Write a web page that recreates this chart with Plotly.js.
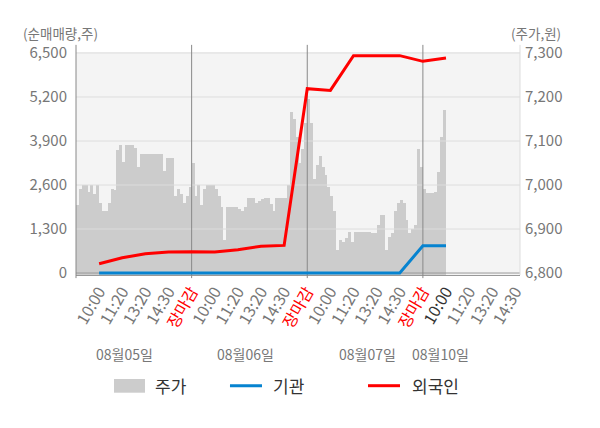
<!DOCTYPE html>
<html>
<head>
<meta charset="utf-8">
<script src="https://cdn.plot.ly/plotly-3.0.1.min.js"></script>
<style>
  html, body { margin: 0; padding: 0; background: #fff; }
  #chart { width: 600px; height: 428px; }
</style>
</head>
<body>
<div id="chart"></div>
<script>
// x axis labels
var session_labels = ['10:00', '11:20', '13:20', '14:30', '장마감']
var day_labels = ['08월05일', '08월06일', '08월07일', '08월10일']

// 주가 (원), sampled evenly through each session
var day1_price = [6955, 6992, 7000, 7000, 6985, 7000, 6980, 7000, 6960, 6942,
                  6942, 6960, 6990, 6988, 7080, 7092, 7052, 7092, 7092, 7092,
                  7085, 7040, 7071, 7071, 7071, 7071, 7071, 7071, 7071, 7071,
                  7032, 7062, 7062, 7062, 6976, 6992, 6980, 6960, 6975, 6995]
var day2_price = [7050, 6976, 7000, 6955, 6992, 7000, 7000, 7000, 6992, 6975,
                  6950, 6875, 6950, 6950, 6950, 6950, 6945, 6942, 6950, 6971,
                  6971, 6971, 6960, 6963, 6968, 6971, 6971, 6958, 6940, 6971,
                  6971, 6971, 6971, 7000, 7165, 7150, 7110, 7050, 7083, 7140]
var day3_price = [7196, 7140, 7014, 7045, 7067, 7040, 7022, 6995, 6975, 6940,
                  6852, 6875, 6870, 6880, 6893, 6870, 6893, 6893, 6893, 6893,
                  6893, 6893, 6892, 6892, 6910, 6933, 6933, 6852, 6882, 6892,
                  6940, 6960, 6965, 6960, 6920, 6892, 6900, 6910, 7083, 7040]
var day4_price = [6992, 6983, 6983, 6983, 6985, 7030, 7110, 7171]

// 순매매량 (주), one value per tick
var foreign_net = [275, 450, 570, 620, 630, 620, 690, 790, 816, 5446, 5395, 6420, 6422, 6422, 6254, 6354]
var inst_net = [0, 0, 0, 0, 0, 0, 0, 0, 0, 0, 0, 0, 0, 0, 805, 805]

var flow_ticks = [0, 1300, 2600, 3900, 5200, 6500]
var price_ticks = [6800, 6900, 7000, 7100, 7200, 7300]

var font_family = 'Noto Sans CJK KR, Noto Sans, sans-serif'
var ticks_per_day = session_labels.length
var samples_per_day = 40
var x_range = [0, 19.2]
var price_range = [6795.5, 7302.3]
var flow_range = [-59, 6530]

// price bars
var price_x = []
var price_y = []
;[day1_price, day2_price, day3_price, day4_price].forEach((day, d) => {
  day.forEach((v, i) => {
    price_x.push(d * ticks_per_day + (i + 0.5) * ticks_per_day / samples_per_day)
    price_y.push(v)
  })
})

// tick labels, 장마감 in red, latest session darker
var tick_vals = []
var tick_text = []
day_labels.forEach((day, d) => {
  session_labels.forEach((lab, i) => {
    tick_vals.push(d * ticks_per_day + i + 1)
    if (lab == '장마감') tick_text.push('<span style="color:#ff0000">' + lab + '</span>')
    else if (d == day_labels.length - 1 && i == 0) tick_text.push('<span style="color:#333333">' + lab + '</span>')
    else tick_text.push(lab)
  })
})

var line_x = foreign_net.map((v, i) => i + 1)

// grid lines drawn as traces so they sit over the price bars but under the flow lines
var grid_x = [], grid_y = []
price_ticks.slice(1).forEach(t => { grid_x.push(x_range[0], x_range[1], null); grid_y.push(t, t, null) })
var day_x = [], day_y = []
for (let d = 1; d < day_labels.length; d++) {
  day_x.push(d * ticks_per_day, d * ticks_per_day, null)
  day_y.push(price_range[0], price_range[1], null)
}

var data = [
  {
    name: '주가', type: 'bar', x: price_x, y: price_y, yaxis: 'y',
    width: ticks_per_day / samples_per_day,
    marker: {color: '#cccccc', line: {width: 0}}, showlegend: false
  },
  {
    type: 'scatter', mode: 'lines', x: grid_x, y: grid_y, yaxis: 'y',
    line: {color: '#dddddd', width: 1}, showlegend: false, hoverinfo: 'skip'
  },
  {
    type: 'scatter', mode: 'lines', x: [x_range[0], x_range[1]], y: [price_ticks[0], price_ticks[0]], yaxis: 'y',
    line: {color: '#999999', width: 1}, showlegend: false, hoverinfo: 'skip'
  },
  {
    type: 'scatter', mode: 'lines', x: day_x, y: day_y, yaxis: 'y',
    line: {color: '#888888', width: 1}, showlegend: false, hoverinfo: 'skip'
  },
  {
    name: '기관', type: 'scatter', mode: 'lines', x: line_x, y: inst_net, yaxis: 'y2',
    line: {color: '#0683d0', width: 3}, showlegend: false
  },
  {
    name: '외국인', type: 'scatter', mode: 'lines', x: line_x, y: foreign_net, yaxis: 'y2',
    line: {color: '#ff0000', width: 3}, showlegend: false
  }
]

var tick_font = {family: font_family, size: 15, color: '#777777'}
var xtick_font = {family: font_family, size: 16, color: '#777777'}
var date_font = {family: font_family, size: 14, color: '#777777'}

// short line stubs outside the plot area (day lines, left/right axis)
var shapes = []
for (let d = 1; d < day_labels.length; d++) {
  shapes.push({type: 'line', xref: 'x', yref: 'paper', x0: d * ticks_per_day, x1: d * ticks_per_day, y0: 1, y1: 1.032, line: {color: '#888888', width: 1}})
  shapes.push({type: 'line', xref: 'x', yref: 'paper', x0: d * ticks_per_day, x1: d * ticks_per_day, y0: -0.014, y1: 0, line: {color: '#888888', width: 1}})
}
shapes.push({type: 'line', xref: 'paper', yref: 'paper', x0: 0, x1: 0, y0: -0.014, y1: 1.032, line: {color: '#888888', width: 1}})
shapes.push({type: 'line', xref: 'paper', yref: 'paper', x0: 1, x1: 1, y0: 0, y1: 1.032, line: {color: '#dddddd', width: 1}})

// legend
shapes.push({type: 'rect', xref: 'paper', yref: 'paper', x0: 0.0856, x1: 0.1554, y0: -0.5278, y1: -0.4664, fillcolor: '#cccccc', line: {width: 0}})
shapes.push({type: 'line', xref: 'paper', yref: 'paper', x0: 0.3468, x1: 0.4189, y0: -0.4964, y1: -0.4964, line: {color: '#0683d0', width: 3}})
shapes.push({type: 'line', xref: 'paper', yref: 'paper', x0: 0.6577, x1: 0.7297, y0: -0.4964, y1: -0.4964, line: {color: '#ff0000', width: 3}})

var legend_font = {family: font_family, size: 17, color: '#333333'}
var title_font = {family: font_family, size: 13.5, color: '#777777'}
var annotations = [
  {text: '주가', xref: 'paper', yref: 'paper', x: 0.1734, y: -0.4964, xanchor: 'left', yanchor: 'middle', showarrow: false, font: legend_font},
  {text: '기관', xref: 'paper', yref: 'paper', x: 0.4392, y: -0.4964, xanchor: 'left', yanchor: 'middle', showarrow: false, font: legend_font},
  {text: '외국인', xref: 'paper', yref: 'paper', x: 0.7523, y: -0.4964, xanchor: 'left', yanchor: 'middle', showarrow: false, font: legend_font},
  {text: '(순매매량,주)', xref: 'paper', yref: 'paper', x: -0.0338, y: 1.083, xanchor: 'center', yanchor: 'middle', showarrow: false, font: title_font},
  {text: '(주가,원)', xref: 'paper', yref: 'paper', x: 1.035, y: 1.083, xanchor: 'center', yanchor: 'middle', showarrow: false, font: title_font}
]

// date labels under each session
var date_pos = [2.1, 7.32, 12.6, 15.78]
day_labels.forEach((lab, d) => {
  annotations.push({text: lab, xref: 'x', yref: 'paper', x: date_pos[d], y: -0.354, xanchor: 'center', yanchor: 'middle', showarrow: false, font: date_font})
})

var layout = {
  width: 600, height: 428,
  margin: {l: 76, r: 80, t: 52, b: 153},
  paper_bgcolor: '#ffffff',
  plot_bgcolor: '#f4f4f4',
  font: {family: font_family},
  showlegend: false,
  hovermode: false,
  bargap: 0,
  xaxis: {
    range: x_range, tickmode: 'array', tickvals: tick_vals, ticktext: tick_text,
    tickangle: -60, tickfont: xtick_font, ticks: '', showgrid: false, zeroline: false,
    showline: true, linecolor: '#999999', linewidth: 1
  },
  yaxis: {
    side: 'right', range: price_range, tickmode: 'array', tickvals: price_ticks,
    tickformat: ',', tickfont: tick_font, showgrid: false, zeroline: false,
    showline: false, ticks: '', ticklabelstandoff: 4
  },
  yaxis2: {
    overlaying: 'y', side: 'left', range: flow_range, tickmode: 'array', tickvals: flow_ticks,
    tickformat: ',', tickfont: tick_font, showgrid: false, zeroline: false,
    showline: false, ticks: '', ticklabelstandoff: 8
  },
  shapes: shapes,
  annotations: annotations
}

Plotly.newPlot('chart', data, layout, {displayModeBar: false, staticPlot: true})
</script>
</body>
</html>
